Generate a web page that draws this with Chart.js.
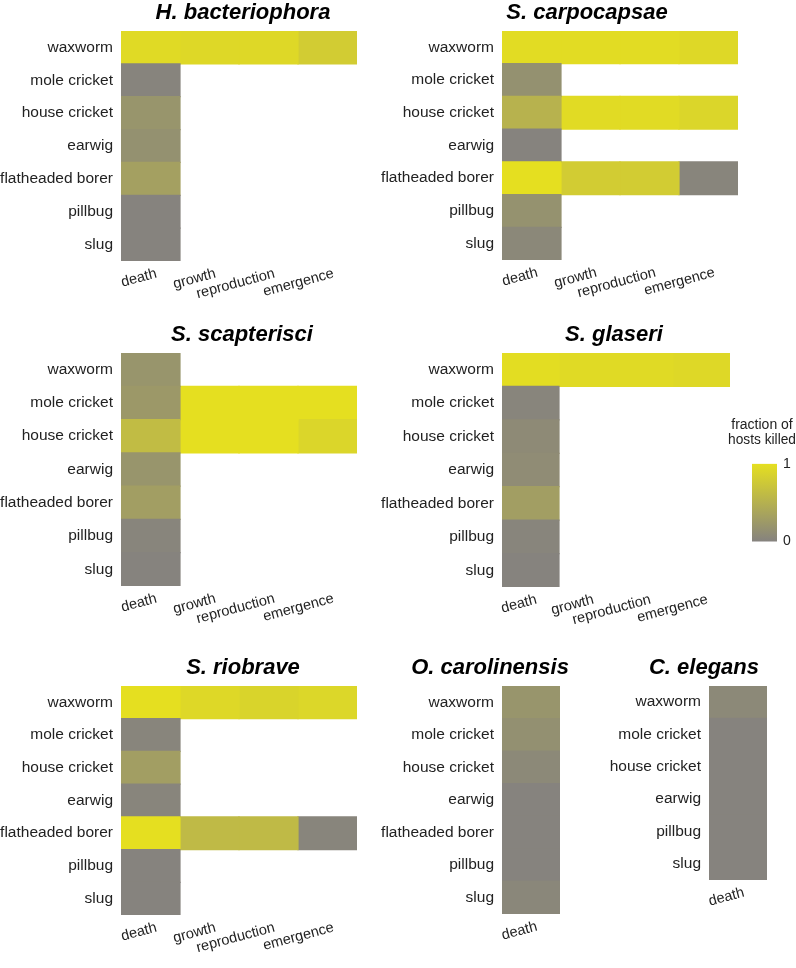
<!DOCTYPE html>
<html>
<head>
<meta charset="utf-8">
<script src="https://cdn.jsdelivr.net/npm/chart.js@4"></script>
<style>
  body { margin: 0; background: #fff; }
  #wrap { position: relative; width: 796px; height: 968px; overflow: hidden; }
  canvas { position: absolute; }
  .ttl {
    position: absolute; transform: translateX(-50%); white-space: nowrap;
    font: italic bold 22px/26px 'Liberation Sans', Arial, Helvetica, sans-serif; color: #000;
  }
</style>
</head>
<body>
<div id="wrap"></div>
<script>
// heat maps: fraction of hosts killed, per host and stage
const hosts = ["waxworm", "mole cricket", "house cricket", "earwig", "flatheaded borer", "pillbug", "slug"];
const hostsElegans = ["waxworm", "mole cricket", "house cricket", "earwig", "pillbug", "slug"];
const stages = ["death", "growth", "reproduction", "emergence"];
const deathOnly = ["death"];

// rows follow the host list, columns follow the stage list (null = not tested)
const hBacteriophora = [
  [0.95, 0.93, 0.93, 0.80],
  [0.02, null, null, null],
  [0.20, null, null, null],
  [0.16, null, null, null],
  [0.32, null, null, null],
  [0.01, null, null, null],
  [0.01, null, null, null]
];
const sCarpocapsae = [
  [0.97, 0.97, 0.97, 0.93],
  [0.16, null, null, null],
  [0.52, 0.96, 0.96, 0.90],
  [0.01, null, null, null],
  [1.00, 0.80, 0.80, 0.03],
  [0.17, null, null, null],
  [0.06, null, null, null]
];
const sScapterisci = [
  [0.20, null, null, null],
  [0.24, 1.00, 1.00, 1.00],
  [0.62, 1.00, 1.00, 0.90],
  [0.20, null, null, null],
  [0.30, null, null, null],
  [0.03, null, null, null],
  [0.01, null, null, null]
];
const sGlaseri = [
  [0.98, 0.95, 0.95, 0.93],
  [0.03, null, null, null],
  [0.09, null, null, null],
  [0.11, null, null, null],
  [0.30, null, null, null],
  [0.03, null, null, null],
  [0.01, null, null, null]
];
const sRiobrave = [
  [1.00, 0.93, 0.88, 0.91],
  [0.03, null, null, null],
  [0.30, null, null, null],
  [0.03, null, null, null],
  [1.00, 0.60, 0.60, 0.03],
  [0.01, null, null, null],
  [0.01, null, null, null]
];
const oCarolinensis = [[0.20], [0.15], [0.07], [0.01], [0.01], [0.01], [0.05]];
const cElegans = [[0.07], [0.01], [0.01], [0.01], [0.01], [0.01]];

const legendTicks = [0, 1];

const GRAY = [133, 130, 127];
const YELLOW = [229, 223, 32];
const FONT = "'Liberation Sans', Arial, Helvetica, sans-serif";

function heatColor(v) {
  const c = GRAY.map((g, i) => Math.round(g + (YELLOW[i] - g) * v));
  return `rgb(${c[0]},${c[1]},${c[2]})`;
}

// where each panel's plot area sits on the page
const panels = [
  { title: "H. bacteriophora", rows: hosts, cols: stages, values: hBacteriophora, page: 0, left: 121, right: 357, top: 31, bottom: 261, titleX: 243 },
  { title: "S. carpocapsae", rows: hosts, cols: stages, values: sCarpocapsae, page: 370, left: 502, right: 738, top: 31, bottom: 260, titleX: 587 },
  { title: "S. scapterisci", rows: hosts, cols: stages, values: sScapterisci, page: 0, left: 121, right: 357, top: 353, bottom: 586, titleX: 242 },
  { title: "S. glaseri", rows: hosts, cols: stages, values: sGlaseri, page: 370, left: 502, right: 730, top: 353, bottom: 587, titleX: 614 },
  { title: "S. riobrave", rows: hosts, cols: stages, values: sRiobrave, page: 0, left: 121, right: 357, top: 686, bottom: 915, titleX: 243 },
  { title: "O. carolinensis", rows: hosts, cols: deathOnly, values: oCarolinensis, page: 370, left: 502, right: 560, top: 686, bottom: 914, titleX: 490 },
  { title: "C. elegans", rows: hostsElegans, cols: deathOnly, values: cElegans, page: 600, left: 709, right: 767, top: 686, bottom: 880, titleX: 704 }
];

const TOP_PAD = 22;
const XAXIS_H = 50;
const wrap = document.getElementById("wrap");

function addCanvas(x, y, w, h) {
  const c = document.createElement("canvas");
  c.width = w; c.height = h;
  c.style.left = x + "px"; c.style.top = y + "px";
  c.style.width = w + "px"; c.style.height = h + "px";
  wrap.appendChild(c);
  return c;
}

function addTitle(text, x, y) {
  const d = document.createElement("div");
  d.className = "ttl";
  d.textContent = text;
  d.style.left = x + "px";
  d.style.top = y + "px";
  wrap.appendChild(d);
}

panels.forEach(p => {
  const w = p.right - p.page + 2;
  const h = TOP_PAD + (p.bottom - p.top) + XAXIS_H;
  const canvas = addCanvas(p.page, p.top - TOP_PAD, w, h);
  addTitle(p.title, p.titleX, p.top - 32);

  const datasets = p.cols.map((col, ci) => ({
    label: col,
    data: p.rows.map((_, ri) => p.values[ri][ci] == null ? null : [ci, ci + 1]),
    backgroundColor: p.rows.map((_, ri) => p.values[ri][ci] == null ? "rgba(0,0,0,0)" : heatColor(p.values[ri][ci])),
    borderWidth: 0,
    inflateAmount: 0.6,
    barPercentage: 1,
    categoryPercentage: 1,
    grouped: false
  }));

  new Chart(canvas, {
    type: "bar",
    data: { labels: p.rows, datasets },
    options: {
      indexAxis: "y",
      responsive: false,
      animation: false,
      layout: { padding: { left: 0, right: 2, top: TOP_PAD, bottom: 0 } },
      plugins: {
        legend: { display: false },
        tooltip: { enabled: false }
      },
      scales: {
        x: {
          type: "linear",
          min: 0,
          max: p.cols.length,
          grid: { display: false, drawTicks: false },
          border: { display: false },
          afterBuildTicks: s => { s.ticks = p.cols.map((_, i) => ({ value: i + 0.5 })); },
          afterFit: s => { s.height = XAXIS_H; },
          ticks: {
            autoSkip: false,
            minRotation: 15,
            maxRotation: 15,
            padding: 4,
            labelOffset: 6,
            color: "#222",
            font: { family: FONT, size: 14.5 },
            callback: (v, i) => p.cols[i]
          }
        },
        y: {
          grid: { display: false, drawTicks: false },
          border: { display: false },
          afterFit: s => { s.width = p.left - p.page; },
          ticks: { padding: 8, color: "#222", font: { family: FONT, size: 15.5 } }
        }
      }
    }
  });
});

// colour key
const keyCanvas = addCanvas(728, 402, 68, 154);
new Chart(keyCanvas, {
  type: "bar",
  data: {
    labels: [""],
    datasets: [{
      data: [[0, 1]],
      borderWidth: 0,
      barPercentage: 1,
      categoryPercentage: 1,
      backgroundColor: ctx => {
        const a = ctx.chart.chartArea;
        if (!a) return heatColor(0.5);
        const g = ctx.chart.ctx.createLinearGradient(0, a.bottom, 0, a.top);
        g.addColorStop(0, heatColor(0));
        g.addColorStop(1, heatColor(1));
        return g;
      }
    }]
  },
  options: {
    responsive: false,
    animation: false,
    layout: { padding: 0 },
    plugins: {
      legend: { display: false },
      tooltip: { enabled: false },
      title: {
        display: true,
        text: ["fraction of", "hosts killed"],
        color: "#222",
        font: { family: FONT, size: 14, weight: "normal", lineHeight: 1.1 },
        padding: { top: 15, bottom: 16 }
      }
    },
    scales: {
      x: { display: false },
      yl: {
        position: "left",
        min: 0, max: 1,
        grid: { display: false, drawTicks: false },
        border: { display: false },
        ticks: { display: false },
        afterFit: s => { s.width = 24; }
      },
      y: {
        position: "right",
        min: 0, max: 1,
        grid: { display: false, drawTicks: false },
        border: { display: false },
        afterBuildTicks: s => { s.ticks = legendTicks.map(v => ({ value: v })); },
        afterFit: s => { s.width = 19; },
        ticks: { padding: 6, color: "#222", font: { family: FONT, size: 14 } }
      }
    }
  }
});
</script>
</body>
</html>
